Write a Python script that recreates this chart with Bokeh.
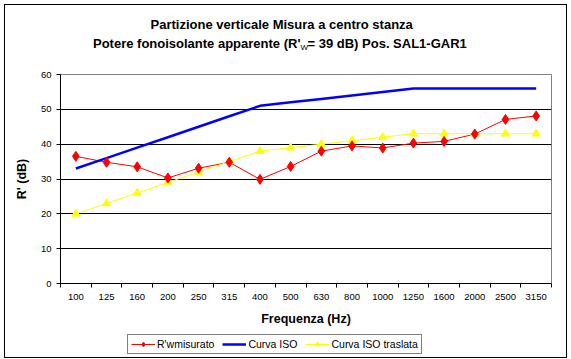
from bokeh.plotting import figure
from bokeh.layouts import column
from bokeh.models import (FixedTicker, Range1d, Legend, LegendItem, Label,
                          InlineStyleSheet)
from bokeh.embed import file_html
from bokeh.resources import INLINE

freqs = ["100", "125", "160", "200", "250", "315", "400", "500", "630",
         "800", "1000", "1250", "1600", "2000", "2500", "3150"]
measured = [36.5, 34.8, 33.5, 30.3, 33.1, 34.8, 29.9, 33.6, 38.0, 39.5,
            38.9, 40.3, 40.8, 42.9, 47.1, 48.1]
iso_curve = [33, 36, 39, 42, 45, 48, 51, 52, 53, 54, 55, 56, 56, 56, 56, 56]
iso_shifted = [20, 23, 26, 29, 32, 35, 38, 39, 40, 41, 42, 43, 43, 43, 43, 43]
y_ticks = [0, 10, 20, 30, 40, 50, 60]

title_line1 = "Partizione verticale Misura  a centro stanza"
title_line2_a = "Potere fonoisolante apparente (R'"
title_line2_sub = "W"
title_line2_b = "= 39 dB) Pos. SAL1-GAR1"
series_names = ["R'wmisurato", "Curva ISO", "Curva ISO traslata"]

xs = list(range(len(freqs)))
FONT = "Liberation Sans"
RED, BLUE, YELLOW = "red", "#0000FF", "yellow"
LEFT, RIGHT, FW = 60, 20, 491
TOP_STRIP = 66

# ---------------- title strip ----------------
tf = figure(output_backend="svg", toolbar_location=None,
            frame_width=FW, frame_height=TOP_STRIP,
            x_axis_location=None, y_axis_location=None,
            min_border_left=LEFT, min_border_right=RIGHT,
            min_border_top=0, min_border_bottom=0,
            x_range=Range1d(LEFT, LEFT + FW), y_range=Range1d(TOP_STRIP, 0))
tf.outline_line_color = None
tf.grid.grid_line_color = None
common = dict(text_font=FONT, text_color="black", text_baseline="middle")
tf.add_layout(Label(x=283, y=24, text=title_line1, text_align="center",
                    text_font_style="bold", text_font_size="13px", **common))
tf.add_layout(Label(x=300, y=43, text=title_line2_a, text_align="right",
                    text_font_style="bold", text_font_size="13px", **common))
tf.add_layout(Label(x=300, y=47, text=title_line2_sub, text_align="left",
                    text_font_style="normal", text_font_size="8px", **common))
tf.add_layout(Label(x=307, y=43, text=title_line2_b, text_align="left",
                    text_font_style="bold", text_font_size="13px", **common))

# ---------------- main chart ----------------
p = figure(output_backend="svg", toolbar_location=None,
           frame_width=FW, frame_height=209,
           x_range=Range1d(-0.5, len(freqs) - 0.5), y_range=Range1d(0, 60),
           min_border_left=LEFT, min_border_right=RIGHT,
           min_border_top=74 - TOP_STRIP, min_border_bottom=42)
p.outline_line_color = "#808080"
p.outline_line_width = 1

p.xgrid.grid_line_color = None
p.ygrid.grid_line_color = "black"
p.ygrid.grid_line_width = 1
p.ygrid.ticker = FixedTicker(ticks=y_ticks)

xa = p.xaxis[0]
xa.ticker = FixedTicker(ticks=xs, minor_ticks=[i - 0.5 for i in range(len(freqs) + 1)])
xa.major_label_overrides = {i: f for i, f in zip(xs, freqs)}
xa.major_tick_out = 0
xa.major_tick_in = 0
xa.minor_tick_out = 4
xa.minor_tick_in = 0
xa.minor_tick_line_color = "black"
xa.axis_line_color = "black"
xa.major_label_text_font = FONT
xa.major_label_text_font_size = "9.5px"
xa.major_label_text_color = "black"
xa.major_label_standoff = 6
xa.axis_label = "Frequenza (Hz)"
xa.axis_label_text_font = FONT
xa.axis_label_text_font_style = "bold"
xa.axis_label_text_font_size = "12.5px"
xa.axis_label_standoff = 9
xa.axis_label_text_color = "black"

ya = p.yaxis[0]
ya.ticker = FixedTicker(ticks=y_ticks)
ya.major_tick_out = 4
ya.major_tick_in = 0
ya.minor_tick_out = 0
ya.minor_tick_in = 0
ya.axis_line_color = "black"
ya.major_label_text_font = FONT
ya.major_label_text_font_size = "9.5px"
ya.major_label_text_color = "black"
ya.major_label_standoff = 5
ya.axis_label = "R' (dB)"
ya.axis_label_text_font = FONT
ya.axis_label_text_font_style = "bold"
ya.axis_label_text_font_size = "12.5px"
ya.axis_label_standoff = 9
ya.axis_label_text_color = "black"

p.line(xs, measured, line_color=RED, line_width=1)
p.line(xs, iso_curve, line_color=BLUE, line_width=2.5)
p.line(xs, iso_shifted, line_color=YELLOW, line_width=1)
p.scatter(xs, iso_shifted, marker="triangle", size=8, fill_color=YELLOW,
          line_color=YELLOW)
p.scatter(xs, measured, marker="diamond", size=10, fill_color=RED, line_color=RED)

# ---------------- legend strip ----------------
# same series drawn again, but outside the strip's visible range (only the
# legend swatches are visible)
lf = figure(output_backend="svg", toolbar_location=None,
            frame_width=FW, frame_height=34,
            x_axis_location=None, y_axis_location=None,
            min_border_left=LEFT, min_border_right=RIGHT,
            min_border_top=0, min_border_bottom=0,
            x_range=Range1d(0, 1), y_range=Range1d(0, 1))
lf.outline_line_color = None
lf.grid.grid_line_color = None
l_r1 = lf.line(xs, measured, line_color=RED, line_width=1)
l_r2 = lf.scatter(xs, measured, marker="diamond", size=10, fill_color=RED,
                  line_color=RED)
l_b = lf.line(xs, iso_curve, line_color=BLUE, line_width=2.5)
l_y1 = lf.line(xs, iso_shifted, line_color=YELLOW, line_width=1)
l_y2 = lf.scatter(xs, iso_shifted, marker="triangle", size=8, fill_color=YELLOW,
                  line_color=YELLOW)

legend = Legend(items=[
    LegendItem(label=series_names[0], renderers=[l_r1, l_r2]),
    LegendItem(label=series_names[1], renderers=[l_b]),
    LegendItem(label=series_names[2], renderers=[l_y1, l_y2]),
], orientation="horizontal", location=(67, 8))
legend.border_line_color = "black"
legend.border_line_width = 1
legend.background_fill_color = "white"
legend.background_fill_alpha = 1
legend.padding = 3
legend.spacing = 8
legend.margin = 0
legend.glyph_width = 24
legend.glyph_height = 12
legend.label_standoff = 2
legend.label_height = 12
legend.label_text_font = FONT
legend.label_text_font_size = "10.5px"
legend.label_text_color = "black"
lf.add_layout(legend)

border_css = InlineStyleSheet(css="""
:host { position: relative; }
:host::after {
  content: ""; position: absolute; left: 4px; top: 4px; right: 4px; bottom: 4px;
  border: 1px solid black; pointer-events: none; z-index: 100;
}
""")
layout = column(tf, p, lf, spacing=0, stylesheets=[border_css])

open("out.html", "w").write(file_html(layout, INLINE))
